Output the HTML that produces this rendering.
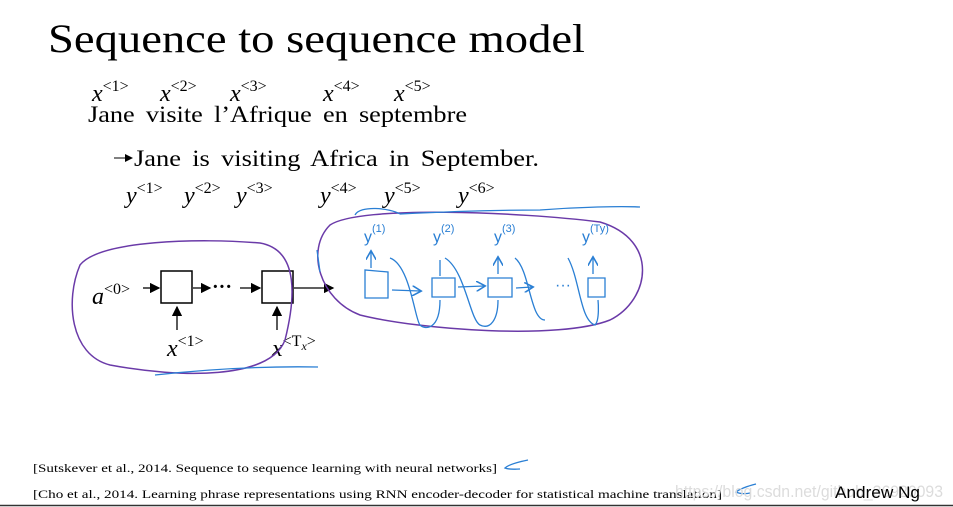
<!DOCTYPE html>
<html><head><meta charset="utf-8"><style>
body{margin:0;background:#fff;width:953px;height:507px;overflow:hidden;position:relative}
svg{position:absolute;left:0;top:0}
</style></head><body>
<svg width="953" height="507" viewBox="0 0 953 507" xmlns="http://www.w3.org/2000/svg">
<defs><marker id="ah" markerWidth="8" markerHeight="8" refX="7" refY="4" orient="auto"><path d="M0,0 L8,4 L0,8 z" fill="#000"/></marker>
<marker id="bh" markerWidth="8" markerHeight="8" refX="6" refY="4" orient="auto"><path d="M0,0 L7,4 L0,8" fill="none" stroke="#2a7fd4" stroke-width="1.2"/></marker></defs>
<text x="48" y="52" font-family="Liberation Serif, serif" font-size="40" textLength="537" lengthAdjust="spacingAndGlyphs">Sequence to sequence model</text>
<g font-family="Liberation Serif, serif" font-size="24" font-style="italic">
<text x="92" y="101">x<tspan font-size="16" dy="-10" font-style="normal">&lt;1&gt;</tspan></text>
<text x="160" y="101">x<tspan font-size="16" dy="-10" font-style="normal">&lt;2&gt;</tspan></text>
<text x="230" y="101">x<tspan font-size="16" dy="-10" font-style="normal">&lt;3&gt;</tspan></text>
<text x="323" y="101">x<tspan font-size="16" dy="-10" font-style="normal">&lt;4&gt;</tspan></text>
<text x="394" y="101">x<tspan font-size="16" dy="-10" font-style="normal">&lt;5&gt;</tspan></text>
<text x="126" y="203">y<tspan font-size="16" dy="-10" font-style="normal">&lt;1&gt;</tspan></text>
<text x="184" y="203">y<tspan font-size="16" dy="-10" font-style="normal">&lt;2&gt;</tspan></text>
<text x="236" y="203">y<tspan font-size="16" dy="-10" font-style="normal">&lt;3&gt;</tspan></text>
<text x="320" y="203">y<tspan font-size="16" dy="-10" font-style="normal">&lt;4&gt;</tspan></text>
<text x="384" y="203">y<tspan font-size="16" dy="-10" font-style="normal">&lt;5&gt;</tspan></text>
<text x="458" y="203">y<tspan font-size="16" dy="-10" font-style="normal">&lt;6&gt;</tspan></text>
<text x="92" y="304">a<tspan font-size="16" dy="-10" font-style="normal">&lt;0&gt;</tspan></text>
<text x="167" y="356">x<tspan font-size="16" dy="-10" font-style="normal">&lt;1&gt;</tspan></text>
<text x="272" y="356">x<tspan font-size="16" dy="-10" font-style="normal">&lt;T<tspan font-style="italic" font-size="12" dy="4">x</tspan><tspan dy="-4">&gt;</tspan></tspan></text>
</g>
<text x="88" y="122" font-family="Liberation Serif, serif" font-size="23" textLength="379" lengthAdjust="spacingAndGlyphs" word-spacing="4">Jane visite l’Afrique en septembre</text>
<line x1="114" y1="158" x2="132" y2="158" stroke="#000" stroke-width="1" marker-end="url(#ah)"/>
<text x="134" y="166" font-family="Liberation Serif, serif" font-size="23" textLength="405" lengthAdjust="spacingAndGlyphs" word-spacing="4">Jane is visiting Africa in September.</text>
<g stroke="#000" stroke-width="1.3" fill="none">
<rect x="161" y="271" width="31" height="32" stroke-width="1.5"/>
<rect x="262" y="271" width="31" height="32" stroke-width="1.5"/>
<line x1="143" y1="288" x2="159" y2="288" marker-end="url(#ah)"/>
<line x1="193" y1="288" x2="210" y2="288" marker-end="url(#ah)"/>
<line x1="240" y1="288" x2="260" y2="288" marker-end="url(#ah)"/>
<line x1="294" y1="288" x2="333" y2="288" marker-end="url(#ah)"/>
<line x1="177" y1="330" x2="177" y2="307" marker-end="url(#ah)"/>
<line x1="277" y1="330" x2="277" y2="307" marker-end="url(#ah)"/>
</g>
<text x="212" y="293" font-family="Liberation Serif, serif" font-size="20" font-weight="bold">···</text>
<g fill="none" stroke="#6a3aa8" stroke-width="1.5">
<path d="M80,265 C100,240 200,238 260,243 C300,250 295,300 285,340 C270,380 180,378 110,365 C70,355 65,300 80,265 Z"/>
<path d="M330,225 C360,205 520,212 600,222 C660,240 650,300 610,320 C560,340 420,330 360,315 C320,300 305,250 330,225 Z"/>
</g>
<g fill="none" stroke="#2a7fd4" stroke-width="1.3">
<path d="M155,375 C200,370 260,366 318,367"/>
<path d="M317,250 L320,272"/>
<path d="M355,215 C360,205 390,208 400,214 M400,214 C440,212 500,210 540,210 C580,207 620,206 640,207"/>
<path d="M365,270 L365,298 L388,298 L388,272 Z"/>
<path d="M432,278 L455,278 L455,297 L432,297 Z"/>
<path d="M488,278 L512,278 L512,297 L488,297 Z"/>
<path d="M588,278 L605,278 L605,297 L588,297 Z"/>
<path d="M392,290 L420,291" marker-end="url(#bh)"/>
<path d="M458,287 L484,286" marker-end="url(#bh)"/>
<path d="M516,288 L532,287" marker-end="url(#bh)"/>
<path d="M371,268 L371,252" marker-end="url(#bh)"/>
<path d="M440,276 L440,260"/><path d="M498,274 L498,258" marker-end="url(#bh)"/><path d="M593,274 L593,258" marker-end="url(#bh)"/>
<path d="M390,258 C410,265 415,320 420,325 C425,330 440,330 440,300"/>
<path d="M445,258 C465,270 470,320 480,325 C490,330 498,320 498,300"/>
<path d="M515,258 C530,270 530,320 545,320"/>
<path d="M568,258 C580,280 580,320 595,325 C600,320 598,300 598,300"/>
<path d="M528,460 C518,462 508,465 505,468 C510,470 516,469 520,469"/>
<path d="M756,484 C748,486 740,489 736,492 C740,494 746,494 750,493"/>
</g>
<g font-family="Liberation Sans, sans-serif" font-size="16" fill="#2a7fd4">
<text x="364" y="242">y<tspan font-size="11" dy="-10">(1)</tspan></text>
<text x="433" y="242">y<tspan font-size="11" dy="-10">(2)</tspan></text>
<text x="494" y="242">y<tspan font-size="11" dy="-10">(3)</tspan></text>
<text x="582" y="242">y<tspan font-size="11" dy="-10">(Ty)</tspan></text>
<text x="555" y="290">···</text>
</g>
<text x="33" y="472" font-family="Liberation Serif, serif" font-size="12" textLength="464" lengthAdjust="spacingAndGlyphs">[Sutskever et al., 2014. Sequence to sequence learning with neural networks]</text>
<text x="33" y="498" font-family="Liberation Serif, serif" font-size="12" textLength="689" lengthAdjust="spacingAndGlyphs">[Cho et al., 2014. Learning phrase representations using RNN encoder-decoder for statistical machine translation]</text>
<text x="675" y="497" font-family="Liberation Sans, sans-serif" font-size="17" fill="#dcdcdc" textLength="268" lengthAdjust="spacingAndGlyphs">https://blog.csdn.net/github_36920093</text>
<text x="835" y="498" font-family="Liberation Sans, sans-serif" font-size="17" textLength="85" lengthAdjust="spacingAndGlyphs">Andrew Ng</text>
<line x1="0" y1="505.5" x2="953" y2="505.5" stroke="#333" stroke-width="1.5"/>
</svg>
</body></html>
